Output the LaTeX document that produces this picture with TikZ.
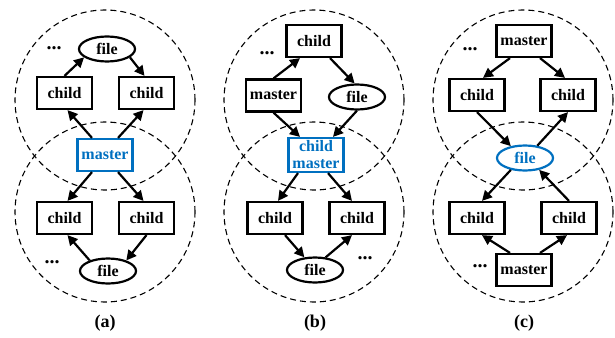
\documentclass[tikz,border=0pt]{standalone}
\usepackage{fontspec}
\setmainfont{Liberation Serif}
\usetikzlibrary{arrows.meta,shapes.geometric}
\definecolor{hlblue}{RGB}{0,112,192}
\tikzset{
  box/.style={draw, line width=2.2pt, rectangle, minimum width=55pt, minimum height=32pt, inner sep=0pt, font=\fontsize{16}{17}\selectfont\bfseries},
  oval/.style={draw, line width=2.2pt, ellipse, minimum width=56pt, minimum height=25pt, inner sep=0pt, font=\fontsize{16}{17}\selectfont\bfseries},
  hl/.style={draw=hlblue, text=hlblue},
  zone/.style={draw, line width=1.1pt, dash pattern=on 6pt off 4pt},
  link/.style={line width=2.2pt, -{Triangle[length=10pt,width=10pt]}},
  more/.style={font=\fontsize{20}{20}\selectfont\bfseries},
  caption/.style={font=\fontsize{18}{18}\selectfont\bfseries}
}
\begin{document}
\begin{tikzpicture}[x=1pt,y=-1pt]
\useasboundingbox (0,0) rectangle (615,337);

% ---------- (a) ----------
\draw[zone] (105,100) circle (90pt);
\draw[zone] (105,212) circle (90pt);
\node[oval] (aF) at (107,49) {file};
\node[more] (aD1) at (54,48) {...};
\node[box] (aL) at (64.5,93) {child};
\node[box] (aR) at (146.5,93) {child};
\node[box,hl] (aM) at (105,155) {master};
\node[box] (aBL) at (64.5,218) {child};
\node[box] (aBR) at (146.5,218) {child};
\node[oval] (aBF) at (108,271) {file};
\node[more] (aD2) at (52,262) {...};
\node[caption] (aC) at (105,323) {(a)};
\draw[link] ([xshift=-13pt]aM.north) -- ([xshift=3pt]aL.south);
\draw[link] ([xshift=13pt]aM.north) -- ([xshift=-3pt]aR.south);
\draw[link] (aL.north) -- (aF.200);
\draw[link] (aF.340) -- ([xshift=-2pt]aR.north);
\draw[link] ([xshift=-13pt]aM.south) -- ([xshift=3pt]aBL.north);
\draw[link] ([xshift=13pt]aM.south) -- ([xshift=-3pt]aBR.north);
\draw[link] (aBR.south) -- (aBF.30);
\draw[link] (aBF.150) -- ([xshift=3pt]aBL.south);

% ---------- (b) ----------
\draw[zone] (314,100) circle (90pt);
\draw[zone] (314,212) circle (90pt);
\node[box] (bT) at (314,41) {child};
\node[more] (bD1) at (267,53) {...};
\node[box] (bM) at (273.5,95.5) {master};
\node[oval] (bF) at (357,97) {file};
\node[box,hl,minimum height=34pt,align=center,font=\fontsize{16}{17}\selectfont\bfseries] (bX) at (316,155) {child\\master};
\node[box] (bBL) at (275,218) {child};
\node[box] (bBR) at (357,218) {child};
\node[oval] (bBF) at (315,270) {file};
\node[more] (bD2) at (365,258) {...};
\node[caption] (bC) at (315,323) {(b)};
\draw[link] (bM.north) -- ([xshift=-14pt]bT.south);
\draw[link] ([xshift=16pt]bT.south) -- (bF.100);
\draw[link] (bM.south) -- ([xshift=-16pt]bX.north);
\draw[link] (bF.south) -- ([xshift=17pt]bX.north);
\draw[link] ([xshift=-18pt]bX.south) -- ([xshift=3pt]bBL.north);
\draw[link] ([xshift=12pt]bX.south) -- ([xshift=-5pt]bBR.north);
\draw[link] ([xshift=10pt]bBL.south) -- (bBF.130);
\draw[link] (bBF.50) -- ([xshift=-5pt]bBR.south);

% ---------- (c) ----------
\draw[zone] (523,100) circle (90pt);
\draw[zone] (523,212) circle (90pt);
\node[box] (cT) at (524,41) {master};
\node[more] (cD1) at (470,49) {...};
\node[box] (cL) at (477,95) {child};
\node[box] (cR) at (568,95) {child};
\node[oval,hl] (cF) at (525,158) {file};
\node[box] (cBL) at (477,218) {child};
\node[box] (cBR) at (569,218) {child};
\node[box] (cB) at (524,270) {master};
\node[more] (cD2) at (480,266) {...};
\node[caption] (cC) at (524,323) {(c)};
\draw[link] ([xshift=-14pt]cT.south) -- ([xshift=6pt]cL.north);
\draw[link] ([xshift=16pt]cT.south) -- ([xshift=-3pt]cR.north);
\draw[link] (cL.south) -- (cF.140);
\draw[link] (cF.45) -- (cR.south);
\draw[link] (cF.220) -- ([xshift=5pt]cBL.north);
\draw[link] (cBR.north) -- (cF.-40);
\draw[link] ([xshift=-14pt]cB.north) -- ([xshift=5pt]cBL.south);
\draw[link] ([xshift=16pt]cB.north) -- ([xshift=-2pt]cBR.south);
\end{tikzpicture}
\end{document}
